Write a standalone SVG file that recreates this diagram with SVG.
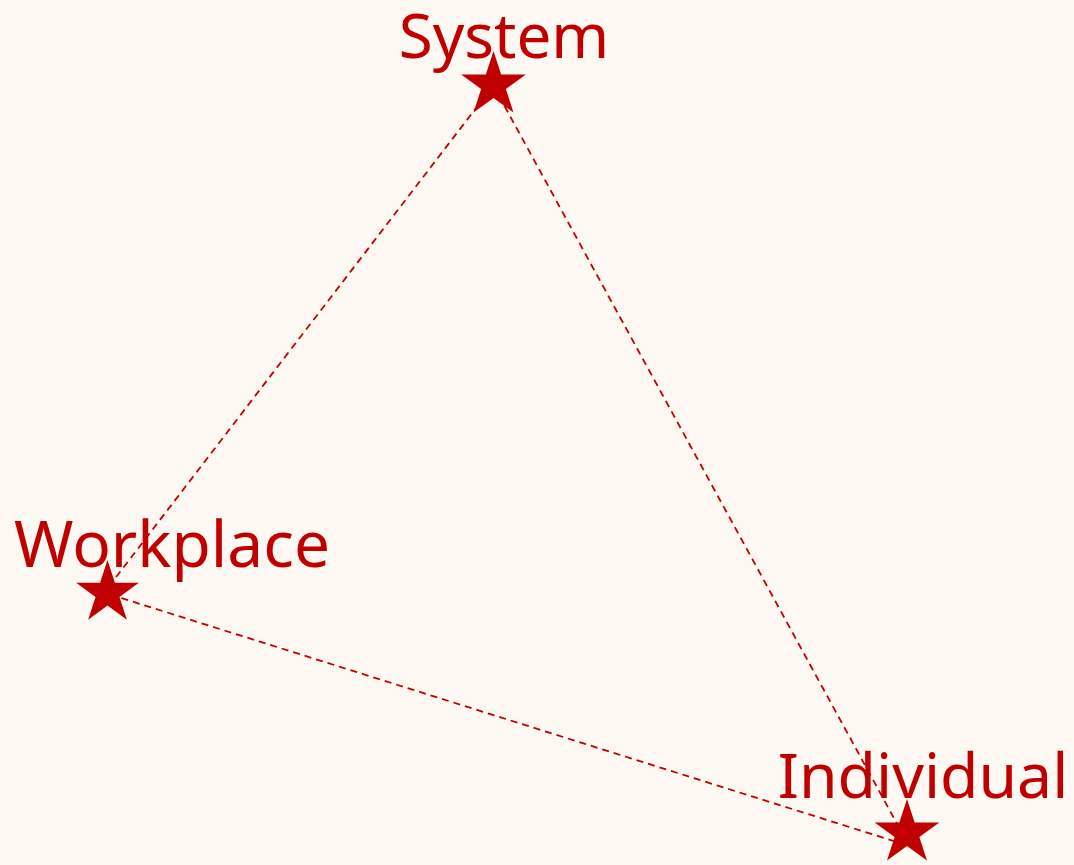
<svg xmlns="http://www.w3.org/2000/svg" width="1074" height="865" viewBox="0 0 1074 865">
  <style>
    .lbl { font-family: "Noto Sans", "Open Sans", sans-serif; font-size: 64px; fill: #C00000; text-anchor: middle; }
    .star { fill: #C00000; }
    .conn { stroke: #C00000; stroke-width: 1.8; stroke-dasharray: 7 5; fill: none; }
  </style>
  <defs>
    <polygon id="star" points="0,-34 7.64,-10.52 32.34,-10.51 12.36,4.02 19.98,27.51 0,13 -19.98,27.51 -12.36,4.02 -32.34,-10.51 -7.64,-10.52"/>
  </defs>
  <rect width="1074" height="865" fill="#FDF8F1"/>
  <g id="connectors">
    <line class="conn" x1="493" y1="86" x2="110" y2="585"/>
    <line class="conn" x1="493" y1="85" x2="901" y2="831"/>
    <line class="conn" x1="110" y1="594.5" x2="897" y2="842"/>
  </g>
  <g id="node-system">
    <use href="#star" class="star" transform="translate(493.5,85)"/>
    <text class="lbl" x="504" y="58" style="font-size:62px">System</text>
  </g>
  <g id="node-workplace">
    <use href="#star" class="star" transform="translate(107.5,593) scale(0.97)"/>
    <text class="lbl" x="172" y="567">Workplace</text>
  </g>
  <g id="node-individual">
    <use href="#star" class="star" transform="translate(907,833)"/>
    <text class="lbl" x="923" y="798" style="font-size:62.5px">Individual</text>
  </g>
</svg>
